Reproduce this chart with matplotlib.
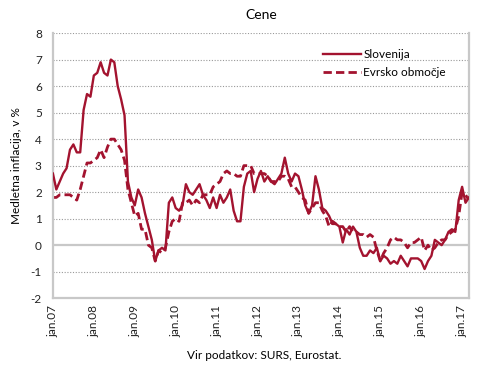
import numpy as np
import matplotlib
matplotlib.use("Agg")
import matplotlib.pyplot as plt

plt.rcParams['font.family'] = ['Lato', 'DejaVu Sans']
plt.rcParams['axes.unicode_minus'] = False

# monthly y/y inflation, jan.07 - mar.17
slovenija = [
    2.7, 2.1, 2.4, 2.7, 2.9, 3.6, 3.8, 3.5, 3.5, 5.1, 5.7, 5.6,
    6.4, 6.5, 6.9, 6.5, 6.4, 7.0, 6.9, 6.0, 5.5, 4.9, 2.4, 1.8,
    1.5, 2.1, 1.8, 1.2, 0.7, 0.2, -0.6, -0.2, -0.1, -0.2, 1.6, 1.8,
    1.4, 1.3, 1.5, 2.3, 2.0, 1.9, 2.1, 2.3, 1.9, 1.7, 1.4, 1.8,
    1.4, 1.9, 1.6, 1.8, 2.1, 1.3, 0.9, 0.9, 2.2, 2.7, 2.8, 2.0,
    2.5, 2.8, 2.4, 2.6, 2.4, 2.3, 2.5, 2.7, 3.3, 2.7, 2.4, 2.7,
    2.6, 2.1, 1.5, 1.2, 1.5, 2.6, 2.1, 1.4, 1.3, 1.1, 0.8, 0.8,
    0.7, 0.1, 0.6, 0.4, 0.7, 0.5, -0.1, -0.4, -0.4, -0.2, -0.3, -0.1,
    -0.6, -0.4, -0.5, -0.7, -0.6, -0.7, -0.4, -0.6, -0.8, -0.5, -0.5, -0.5,
    -0.6, -0.9, -0.6, -0.4, 0.2, 0.1, 0.0, 0.2, 0.5, 0.6, 0.5, 1.7,
    2.2, 1.6, 1.8,
]
evrsko = [
    1.8, 1.8, 1.9, 1.9, 1.9, 1.9, 1.8, 1.7, 2.1, 2.6, 3.1, 3.1,
    3.2, 3.3, 3.6, 3.3, 3.7, 4.0, 4.0, 3.8, 3.6, 3.2, 2.1, 1.6,
    1.1, 1.2, 0.6, 0.6, 0.0, -0.1, -0.6, -0.2, -0.3, -0.1, 0.5, 0.9,
    1.0, 0.9, 1.6, 1.6, 1.7, 1.5, 1.7, 1.6, 1.9, 1.9, 1.9, 2.2,
    2.3, 2.4, 2.7, 2.8, 2.7, 2.7, 2.6, 2.6, 3.0, 3.0, 3.0, 2.7,
    2.7, 2.7, 2.7, 2.6, 2.4, 2.4, 2.4, 2.6, 2.6, 2.5, 2.2, 2.2,
    2.0, 1.8, 1.7, 1.2, 1.4, 1.6, 1.6, 1.3, 1.1, 0.7, 0.9, 0.8,
    0.7, 0.7, 0.5, 0.7, 0.5, 0.5, 0.4, 0.4, 0.3, 0.4, 0.3, -0.2,
    -0.6, -0.3, -0.1, 0.2, 0.3, 0.2, 0.2, 0.1, -0.1, 0.1, 0.1, 0.2,
    0.3, -0.2, 0.0, -0.2, -0.1, 0.1, 0.2, 0.2, 0.4, 0.5, 0.6, 1.1,
    2.0, 1.9, 1.7,
]
tick_labels = ['jan.07', 'jan.08', 'jan.09', 'jan.10', 'jan.11', 'jan.12',
               'jan.13', 'jan.14', 'jan.15', 'jan.16', 'jan.17']

red = '#a3132f'
grey = '#c8c8c8'
x = np.arange(len(slovenija))

fig = plt.figure(figsize=(4.9, 3.76), dpi=100)
ax = fig.add_axes([0.108, 0.207, 0.849, 0.705])

for v in range(-1, 9):
    if v == 0:
        ax.axhline(v, color=grey, lw=1.6, zorder=1)
    else:
        ax.axhline(v, color='#999999', lw=0.8, ls=(0, (1, 1.5)), zorder=1)

ax.plot(x, slovenija, color=red, lw=1.7, label='Slovenija', zorder=3)
ax.plot(x, evrsko, color=red, lw=2.0, ls=(0, (3, 1.5)), label='Evrsko območje', zorder=2)

ax.set_xlim(0, len(x) - 1)
ax.set_ylim(-2, 8)
ax.set_yticks(range(-2, 9))
ax.set_xticks(range(0, len(x), 12))
ax.set_xticklabels(tick_labels, rotation=90, fontsize=8.5)
ax.tick_params(axis='both', length=0, labelsize=8.5, colors='#222222')
ax.tick_params(axis='y', pad=8)
ax.tick_params(axis='x', pad=5)

for s in ['left', 'right', 'bottom']:
    ax.spines[s].set_color(grey)
    ax.spines[s].set_linewidth(1.6)
ax.spines['top'].set_visible(False)

ax.set_ylabel('Medletna inflacija, v %', fontsize=8.5, labelpad=6)
ax.set_title('Cene', fontsize=10, pad=10)

ax.legend(loc='upper right', bbox_to_anchor=(0.97, 0.98), frameon=False,
          fontsize=8.5, handlelength=3.2, handletextpad=0.2, labelspacing=0.6)

fig.text(0.54, 0.045, 'Vir podatkov: SURS, Eurostat.', ha='center', fontsize=8.5)

plt.savefig('out.png', dpi=100)
